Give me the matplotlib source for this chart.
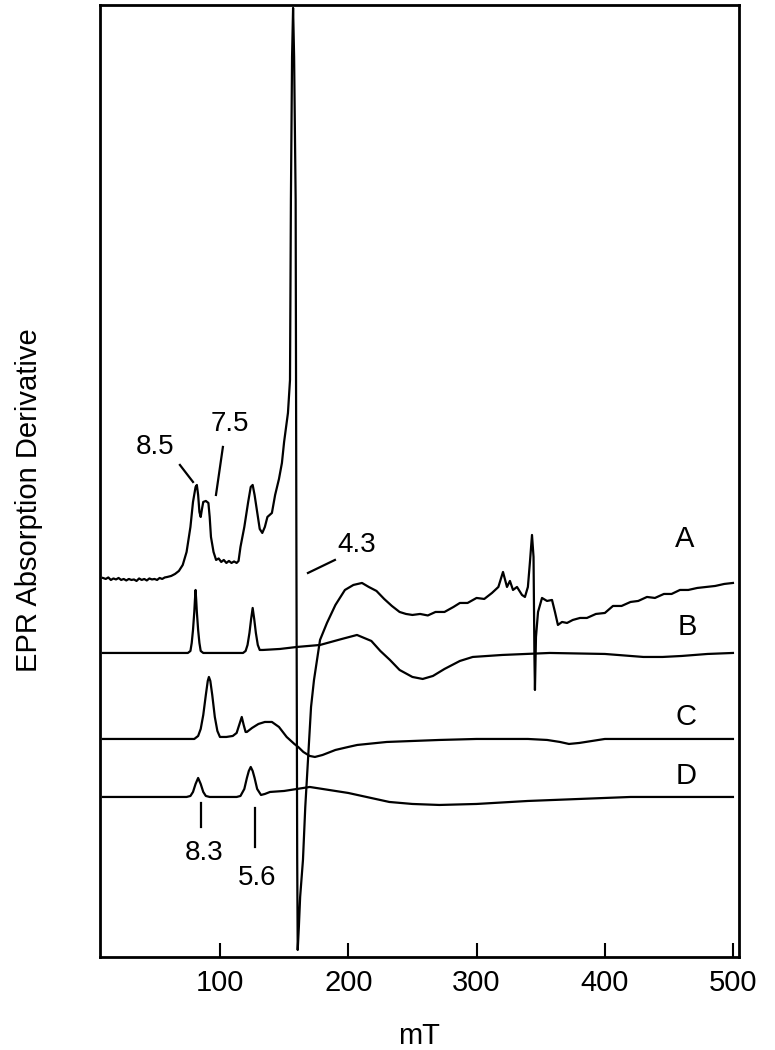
import matplotlib

matplotlib.use('Agg')
import matplotlib.pyplot as plt

plt.rcParams['font.family'] = ['Liberation Sans', 'DejaVu Sans']

# field (mT) and signal (arbitrary units, stacked offsets)
trace_a_field = [8.8, 11, 13, 15, 17, 19, 21, 23, 25, 27, 29, 31, 33, 35, 37, 39, 41, 43, 45, 47,
                 49, 51, 53, 55, 57, 59, 62, 65, 68, 71, 74, 77, 79, 81, 82, 83, 84, 85, 86, 87,
                 89, 91, 92, 93, 95, 97, 99, 101, 103, 105, 107, 109, 111, 113, 114.5, 116, 119,
                 122, 124, 125.5, 127, 129, 131, 133, 135, 137, 140.5, 143, 146, 148.3, 150, 153,
                 154.6, 155.3, 156.2, 157, 157.8, 159, 159.6, 160.2, 160.6, 161.5, 162.5, 164.7,
                 166.5, 168.6, 171, 173.3, 178, 183.4, 190, 197.4, 204, 210.7, 216, 222, 228, 234,
                 240, 245, 250, 256, 262, 268, 275, 282, 287, 293, 300, 306, 312, 317, 320.6,
                 323.7, 326, 328.4, 331.5, 335.4, 337.7, 340, 341.6, 343.2, 344.4, 345.1, 345.5,
                 346.3, 347.9, 351, 354.9, 358.8, 361.1, 363.4, 366.6, 370.5, 375, 380.6, 386, 393,
                 400, 406.3, 413, 420, 426, 432.8, 439, 446, 452, 458.5, 465, 472, 479, 486, 493,
                 499.8]
trace_a_value = [379, 378, 379.5, 377, 378.5, 377.5, 379, 377, 378, 376.5, 378, 377, 377.5, 376, 378.5, 377, 378, 376.5, 378.5, 377.5,
                 378, 377, 379, 378, 379.5, 380, 381, 383, 386, 392, 405, 430, 455, 470, 472, 462, 445, 440, 448, 455,
                 456, 454, 440, 420, 405, 397, 398.5, 395, 397, 394, 396, 394, 395.5, 394, 396, 410, 430,
                 455, 470, 472, 462, 445, 428, 424, 430, 440, 444, 462, 478, 494, 515, 544,
                 577, 757, 900, 949, 900, 757, 400, 100, 7, 30, 60, 97,
                 150, 197, 250, 277, 317, 334, 352, 367, 372, 374, 370, 366, 358, 351,
                 345, 343, 342, 343, 341.5, 345, 345, 350, 354, 354, 359, 358, 364, 370, 385,
                 370, 376, 367, 370, 362, 360, 370, 395, 422, 400, 300, 267,
                 320, 345, 359, 356, 357, 345, 332, 335, 334, 337, 339, 339, 343,
                 344, 351, 351, 355, 356, 360, 359, 363, 363, 367, 367, 369, 370, 371, 373,
                 374]

trace_b_field = [8.8, 30, 60, 75, 77, 78, 79, 80, 80.5, 81, 81.5, 82, 83, 84, 85, 87, 100, 118,
                 120, 121.5, 123, 124.3, 125.5, 126.7, 128, 129.5, 131, 133.5, 146.8, 160, 178,
                 195, 206.8, 218, 225, 232.5, 240, 250, 258, 266, 275, 287, 297, 320, 357, 400,
                 430, 445, 460, 480, 499.8]
trace_b_value = [304, 304, 304, 304, 306, 314, 327, 345, 357, 367, 357, 345, 327, 314, 306, 304, 304, 304,
                 306, 312, 324, 338, 349, 338, 324, 312, 307, 307, 308, 310, 312,
                 318, 322, 316, 306, 297, 287, 280, 278, 281, 288, 296, 300, 302, 304, 303,
                 300, 300, 301, 303, 304]

trace_c_field = [8.8, 40, 80, 83, 85, 87, 89, 90.5, 91.4, 92.5, 94, 96, 98, 100, 105, 110, 113,
                 115, 117, 118.5, 120, 121, 125, 130, 135, 140.5, 146, 152, 158, 161, 165, 170,
                 174, 180, 190, 200, 207, 230, 271, 300, 340, 355, 365, 372, 380, 390, 400, 450,
                 499.8]
trace_c_value = [218, 218, 218, 221, 228, 242, 262, 276, 280, 276, 262, 240, 226, 220, 220, 221, 224,
                 232, 240, 232, 225, 225, 229, 233, 235, 235, 230, 220, 213, 210, 205, 201,
                 200, 202, 207, 210, 212, 215, 217, 218, 218, 217, 215, 213, 214, 216, 218, 218,
                 218]

trace_d_field = [8.8, 40, 74, 77, 79, 81, 83, 85, 87, 89, 92, 100, 113, 116, 119, 121, 122.5, 124,
                 125.5, 127, 129, 132, 135, 139, 150, 160, 170, 180, 200, 232, 250, 271, 300,
                 340, 380, 420, 460, 499.8]
trace_d_value = [160, 160, 160, 161, 165, 173, 179, 173, 165, 161, 160, 160, 160, 161, 168, 179, 186, 190,
                 186, 179, 168, 162, 163, 165, 166, 168, 170, 168, 164, 155, 153, 152, 153,
                 156, 158, 160, 160, 160]

trace_labels = ['A', 'B', 'C', 'D']
trace_label_pos = [(462.4, 418), (464, 330), (463.2, 240), (463.2, 181)]

# g-value labels: text, text position, marker line
g_labels = ['8.5', '7.5', '4.3', '8.3', '5.6']
g_text_pos = [(49.3, 510), (107.8, 533), (206.8, 412), (87.5, 104), (128.8, 79)]
g_line_x = [(68.8, 79.0), (102.3, 96.9), (168.6, 189.6), (85.2, 85.2), (127.3, 127.3)]
g_line_y = [(492, 475), (510, 462), (384, 397), (154, 130), (149, 110)]

x_ticks = [100, 200, 300, 400, 500]

fig = plt.figure(figsize=(7.75, 10.5), dpi=100)
ax = fig.add_axes([0.129, 0.0886, 0.8245, 0.9067])

for fx, fy in [(trace_a_field, trace_a_value), (trace_b_field, trace_b_value),
               (trace_c_field, trace_c_value), (trace_d_field, trace_d_value)]:
    ax.plot(fx, fy, color='black', linewidth=1.6, solid_joinstyle='round')

for label, (lx, ly) in zip(trace_labels, trace_label_pos):
    ax.text(lx, ly, label, fontsize=21, ha='center', va='center')

for label, (tx, ty), lx, ly in zip(g_labels, g_text_pos, g_line_x, g_line_y):
    ax.text(tx, ty, label, fontsize=20, ha='center', va='center')
    ax.plot(lx, ly, color='black', linewidth=1.6)

ax.set_xlim(6.5, 504.5)
ax.set_ylim(0, 952)
ax.set_xticks(x_ticks)
ax.set_yticks([])
ax.tick_params(axis='x', direction='in', length=10, width=1.5, labelsize=21, pad=9)

for spine in ax.spines.values():
    spine.set_linewidth(2)

ax.set_xlabel('mT', fontsize=21, labelpad=18)
ax.set_ylabel('EPR Absorption Derivative', fontsize=21)
ax.yaxis.set_label_coords(-0.089, 0.48)

fig.savefig('out.png', dpi=100)
plt.close(fig)
